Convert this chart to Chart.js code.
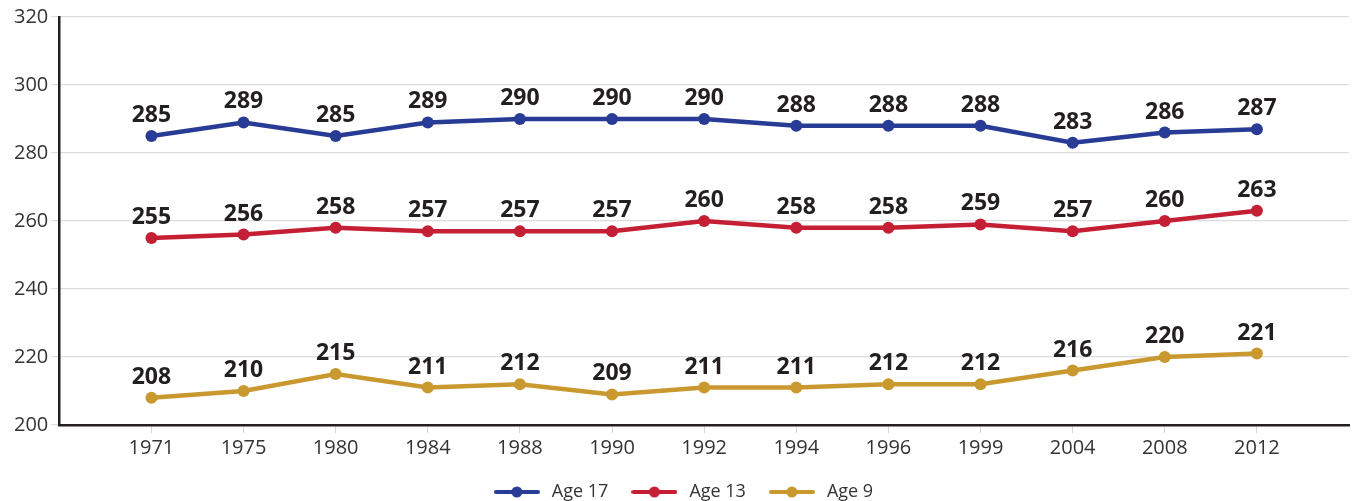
<!DOCTYPE html>
<html><head><meta charset="utf-8">
<script src="https://cdn.jsdelivr.net/npm/chart.js@4"></script>
<style>html,body{margin:0;padding:0;background:#fff}#wrap{width:1355px;height:501px}</style>
</head><body><div id="wrap"><canvas id="c" width="1355" height="501"></canvas></div>
<script>
const years = ['1971','1975','1980','1984','1988','1990','1992','1994','1996','1999','2004','2008','2012'];
const age17 = [285,289,285,289,290,290,290,288,288,288,283,286,287];
const age13 = [255,256,258,257,257,257,260,258,258,259,257,260,263];
const age9 = [208,210,215,211,212,209,211,211,212,212,216,220,221];
const yTicks = [200,220,240,260,280,300,320];

const colors = {a17:'#283c96', a13:'#c41f35', a9:'#c9992f'};
const labels = [''].concat(years, ['']);
const pad = arr => [null].concat(arr, [null]);
const FONT = '"Open Sans", Lato, sans-serif';

function legendIcon(color){
  const c = document.createElement('canvas');
  c.width = 46; c.height = 14;
  const g = c.getContext('2d');
  g.strokeStyle = color; g.lineWidth = 4; g.lineCap = 'round';
  g.beginPath(); g.moveTo(2,7); g.lineTo(44,7); g.stroke();
  g.fillStyle = color; g.beginPath(); g.arc(23,7,5.5,0,Math.PI*2); g.fill();
  return c;
}

const labelPlugin = {
  id:'valLabels',
  afterDatasetsDraw(chart){
    const ctx = chart.ctx;
    ctx.save();
    ctx.font = 'bold 23px ' + FONT;
    ctx.fillStyle = '#231f20';
    ctx.textAlign = 'center';
    ctx.textBaseline = 'alphabetic';
    chart.data.datasets.forEach((ds,i)=>{
      const meta = chart.getDatasetMeta(i);
      meta.data.forEach((pt,j)=>{
        const v = ds.data[j];
        if(v==null) return;
        ctx.fillText(String(Math.round(v)), pt.x, pt.y - 14);
      });
    });
    ctx.restore();
  }
};

function ds(label, data, color){
  return {label, data:pad(data), borderColor:color, backgroundColor:color,
    borderWidth:4.5, pointRadius:6, pointHoverRadius:6, pointBackgroundColor:color,
    pointBorderWidth:0, pointStyle:'circle', tension:0, spanGaps:false};
}

new Chart(document.getElementById('c'), {
  type:'line',
  data:{labels, datasets:[ds('Age 17',age17,colors.a17), ds('Age 13',age13,colors.a13), ds('Age 9',age9,colors.a9)]},
  options:{
    responsive:false, animation:false,
    layout:{padding:{left:11,right:2,top:17,bottom:-10}},
    plugins:{
      tooltip:{enabled:false},
      legend:{position:'bottom', labels:{usePointStyle:true, pointStyleWidth:52, color:'#333',
        font:{size:18, family:FONT}, padding:20,
        generateLabels:(chart)=>chart.data.datasets.map((d,i)=>({text:d.label, fillStyle:d.borderColor, strokeStyle:d.borderColor, lineWidth:0, pointStyle:legendIcon(d.borderColor), datasetIndex:i, hidden:false, fontColor:'#333'}))
      }}
    },
    scales:{
      x:{offset:false,
        grid:{drawOnChartArea:false, drawTicks:true, tickLength:8, color:(c)=> (c.index===0||c.index===labels.length-1)?'rgba(0,0,0,0)':'#d5d5d5'},
        border:{color:'#231f20', width:2.5},
        ticks:{color:'#333', font:{size:20, family:FONT}, autoSkip:false, maxRotation:0, padding:3}
      },
      y:{min:200, max:320, afterBuildTicks:(ax)=>{ax.ticks = yTicks.map(v=>({value:v}));},
        grid:{color:'#dcdcdc', lineWidth:1.2, drawTicks:true, tickLength:8},
        border:{color:'#231f20', width:2.5},
        ticks:{color:'#333', font:{size:20, family:FONT}, padding:3}
      }
    }
  },
  plugins:[labelPlugin]
});
</script></body></html>
